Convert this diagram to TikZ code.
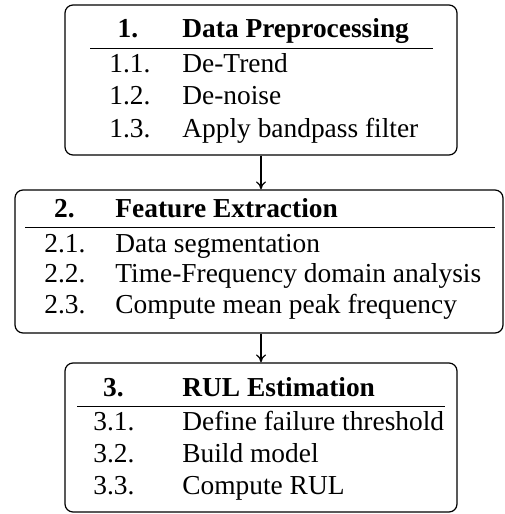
\documentclass[tikz,border=0pt]{standalone}
\usepackage{fontspec}
\setmainfont{Liberation Serif}
\usetikzlibrary{arrows.meta}
\begin{document}
\begin{tikzpicture}[x=0.5pt,y=-0.5pt,
  stagebox/.style={draw, rounded corners=4pt, line width=0.6pt, inner sep=0pt},
  txt/.style={anchor=base west, inner sep=0pt, font=\fontsize{13.7}{16}\selectfont},
  hd/.style={anchor=base, inner sep=0pt, font=\fontsize{13.7}{16}\selectfont\bfseries},
  hdt/.style={anchor=base west, inner sep=0pt, font=\fontsize{13.7}{16}\selectfont\bfseries},
  rulel/.style={line width=0.5pt},
  flow/.style={-{To[length=4pt,width=5pt]}, line width=0.6pt}]
\useasboundingbox (0,0) rectangle (504,514);
% boxes
\node[stagebox, minimum width=196pt, minimum height=75pt] (b1) at (261,80) {};
\node[stagebox, minimum width=244pt, minimum height=71.5pt] (b2) at (259,261.5) {};
\node[stagebox, minimum width=196pt, minimum height=74.5pt] (b3) at (261,437.5) {};
% box 1
\node[hd] (h1n) at (128,37) {1.};
\node[hdt] (h1t) at (182,37) {Data Preprocessing};
\draw[rulel] (90,48) -- (433,48);
\node[txt] (n11) at (109,72) {1.1.};
\node[txt] (t11) at (182,72) {De-Trend};
\node[txt] (n12) at (109,104.5) {1.2.};
\node[txt] (t12) at (182,104.5) {De-noise};
\node[txt] (n13) at (109,137) {1.3.};
\node[txt] (t13) at (182,137) {Apply bandpass filter};
% box 2
\node[hd] (h2n) at (64.5,217) {2.};
\node[hdt] (h2t) at (115,217) {Feature Extraction};
\draw[rulel] (25,227) -- (495,227);
\node[txt] (n21) at (44,252) {2.1.};
\node[txt] (t21) at (115,252) {Data segmentation};
\node[txt] (n22) at (44,282) {2.2.};
\node[txt] (t22) at (115,282) {Time-Frequency domain analysis};
\node[txt] (n23) at (44,313) {2.3.};
\node[txt] (t23) at (115,313) {Compute mean peak frequency};
% box 3
\node[hd] (h3n) at (113.5,396) {3.};
\node[hdt] (h3t) at (182,396) {RUL Estimation};
\draw[rulel] (77,406) -- (445,406);
\node[txt] (n31) at (93,430) {3.1.};
\node[txt] (t31) at (182,430) {Define failure threshold};
\node[txt] (n32) at (93,462) {3.2.};
\node[txt] (t32) at (182,462) {Build model};
\node[txt] (n33) at (93,494) {3.3.};
\node[txt] (t33) at (182,494) {Compute RUL};
% arrows
\draw[flow] (b1.south) -- (b1.south |- b2.north);
\draw[flow] (b2.south -| b1.south) -- (b1.south |- b3.north);
\end{tikzpicture}
\end{document}
